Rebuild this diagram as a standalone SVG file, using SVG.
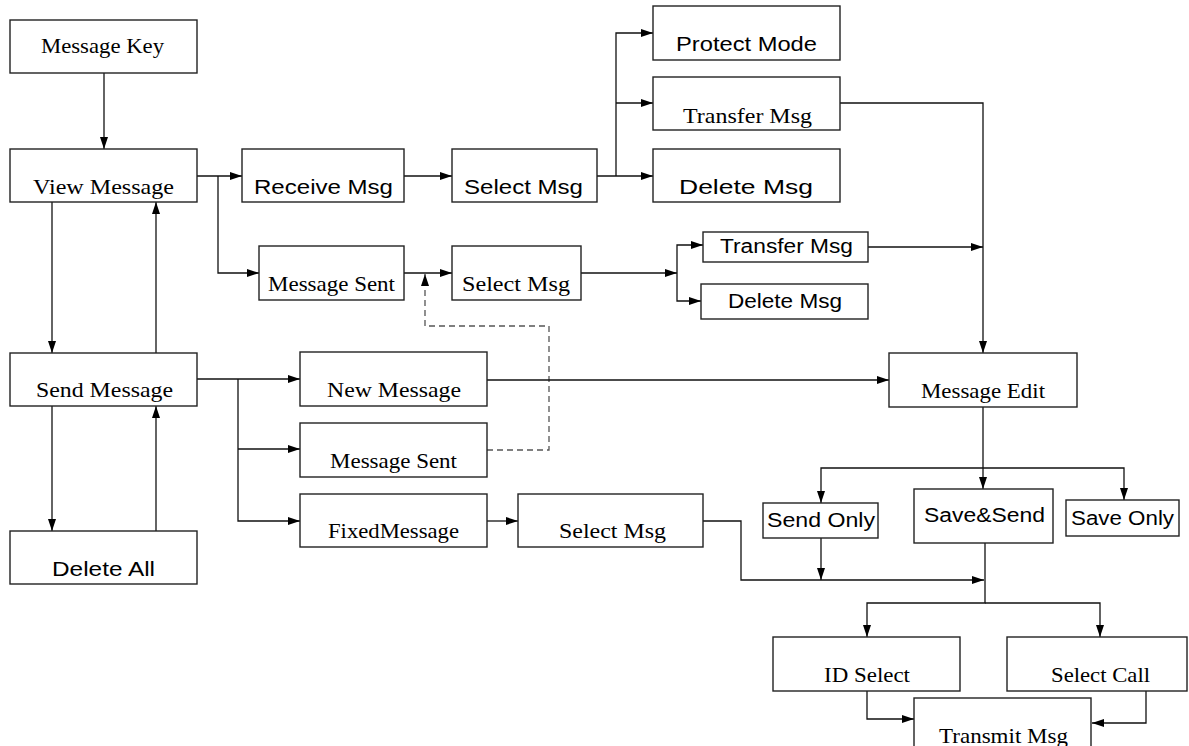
<svg xmlns="http://www.w3.org/2000/svg" width="1189" height="746" viewBox="0 0 1189 746">
<style>
rect{fill:#fff;stroke:#222;stroke-width:1.4}
.s{font-family:"Liberation Serif",serif;font-size:21px;fill:#000}
.a{font-family:"Liberation Sans",Arial,sans-serif;font-size:20px;fill:#000}
.c path{fill:none;stroke:#111;stroke-width:1.3}
.c path.d{stroke:#555;stroke-dasharray:6,4}
</style>
<defs>
<marker id="ah" viewBox="0 0 12 8" refX="12" refY="4" markerWidth="12" markerHeight="8" orient="auto" markerUnits="userSpaceOnUse"><path d="M0,0 L12,4 L0,8 z" fill="#000"/></marker>
</defs>
<rect x="0" y="0" width="1189" height="746" style="fill:#fff;stroke:none"/>
<g class="c" id="connectors">
<path d="M104,73 V149" marker-end="url(#ah)"/>
<path d="M197,176 H242" marker-end="url(#ah)"/>
<path d="M218,176 V273 H259" marker-end="url(#ah)"/>
<path d="M404,176 H452" marker-end="url(#ah)"/>
<path d="M597,176 H653" marker-end="url(#ah)"/>
<path d="M616,176 V33 H653" marker-end="url(#ah)"/>
<path d="M616,103 H653" marker-end="url(#ah)"/>
<path d="M840,103 H983 V353" marker-end="url(#ah)"/>
<path d="M404,273 H452" marker-end="url(#ah)"/>
<path class="d" d="M487,450 H549 V326 H425 V274" marker-end="url(#ah)"/>
<path d="M581,273 H677" marker-end="url(#ah)"/>
<path d="M677,273 V245 H703" marker-end="url(#ah)"/>
<path d="M677,273 V301 H701" marker-end="url(#ah)"/>
<path d="M868,247 H983" marker-end="url(#ah)"/>
<path d="M52,202 V353" marker-end="url(#ah)"/>
<path d="M156,353 V202" marker-end="url(#ah)"/>
<path d="M52,406 V531" marker-end="url(#ah)"/>
<path d="M156,531 V406" marker-end="url(#ah)"/>
<path d="M197,379 H300" marker-end="url(#ah)"/>
<path d="M238,379 V521 H300" marker-end="url(#ah)"/>
<path d="M238,449 H300" marker-end="url(#ah)"/>
<path d="M487,380 H889" marker-end="url(#ah)"/>
<path d="M487,521 H518" marker-end="url(#ah)"/>
<path d="M703,521 H741 V580 H984" marker-end="url(#ah)"/>
<path d="M983,407 V489" marker-end="url(#ah)"/>
<path d="M983,468 H821 V503" marker-end="url(#ah)"/>
<path d="M983,468 H1124 V500" marker-end="url(#ah)"/>
<path d="M821,538 V580" marker-end="url(#ah)"/>
<path d="M985,543 V603 H867 V637" marker-end="url(#ah)"/>
<path d="M985,603 H1100 V637" marker-end="url(#ah)"/>
<path d="M867,691 V719 H914" marker-end="url(#ah)"/>
<path d="M1146,691 V723 H1092" marker-end="url(#ah)"/>
</g>
<g id="message-key"><rect x="10" y="20" width="187" height="53"/><text class="s" x="41" y="53" textLength="123" lengthAdjust="spacingAndGlyphs">Message Key</text></g>
<g id="view-message"><rect x="10" y="149" width="187" height="53"/><text class="s" x="33" y="194" textLength="141" lengthAdjust="spacingAndGlyphs">View Message</text></g>
<g id="receive-msg"><rect x="242" y="149" width="162" height="53"/><text class="a" x="254" y="194" textLength="139" lengthAdjust="spacingAndGlyphs">Receive Msg</text></g>
<g id="select-msg-1"><rect x="452" y="149" width="145" height="53"/><text class="a" x="464" y="194" textLength="119" lengthAdjust="spacingAndGlyphs">Select Msg</text></g>
<g id="protect-mode"><rect x="653" y="6" width="187" height="54"/><text class="a" x="676" y="51" textLength="141" lengthAdjust="spacingAndGlyphs">Protect Mode</text></g>
<g id="transfer-msg-1"><rect x="653" y="77" width="187" height="53"/><text class="s" x="683" y="123" textLength="129" lengthAdjust="spacingAndGlyphs">Transfer Msg</text></g>
<g id="delete-msg-1"><rect x="653" y="149" width="187" height="53"/><text class="a" x="679" y="194" textLength="134" lengthAdjust="spacingAndGlyphs">Delete Msg</text></g>
<g id="message-sent-1"><rect x="259" y="246" width="145" height="54"/><text class="s" x="268" y="291" textLength="127" lengthAdjust="spacingAndGlyphs">Message Sent</text></g>
<g id="select-msg-2"><rect x="452" y="246" width="129" height="54"/><text class="s" x="462" y="291" textLength="108" lengthAdjust="spacingAndGlyphs">Select Msg</text></g>
<g id="transfer-msg-2"><rect x="703" y="232" width="165" height="30"/><text class="a" x="720" y="253" font-size="21" textLength="133" lengthAdjust="spacingAndGlyphs">Transfer Msg</text></g>
<g id="delete-msg-2"><rect x="701" y="284" width="167" height="35"/><text class="a" x="728" y="308" font-size="21" textLength="114" lengthAdjust="spacingAndGlyphs">Delete Msg</text></g>
<g id="send-message"><rect x="10" y="353" width="187" height="53"/><text class="s" x="36" y="397" textLength="137" lengthAdjust="spacingAndGlyphs">Send Message</text></g>
<g id="delete-all"><rect x="10" y="531" width="187" height="53"/><text class="a" x="52" y="576" textLength="103" lengthAdjust="spacingAndGlyphs">Delete All</text></g>
<g id="new-message"><rect x="300" y="352" width="187" height="54"/><text class="s" x="327" y="397" textLength="134" lengthAdjust="spacingAndGlyphs">New Message</text></g>
<g id="message-sent-2"><rect x="300" y="423" width="187" height="54"/><text class="s" x="330" y="468" textLength="127" lengthAdjust="spacingAndGlyphs">Message Sent</text></g>
<g id="fixed-message"><rect x="300" y="494" width="187" height="53"/><text class="s" x="328" y="538" textLength="131" lengthAdjust="spacingAndGlyphs">FixedMessage</text></g>
<g id="select-msg-3"><rect x="518" y="494" width="185" height="53"/><text class="s" x="559" y="538" textLength="107" lengthAdjust="spacingAndGlyphs">Select Msg</text></g>
<g id="message-edit"><rect x="889" y="353" width="188" height="54"/><text class="s" x="921" y="398" textLength="124" lengthAdjust="spacingAndGlyphs">Message Edit</text></g>
<g id="send-only"><rect x="763" y="503" width="115" height="35"/><text class="a" x="767" y="527" textLength="108" lengthAdjust="spacingAndGlyphs">Send Only</text></g>
<g id="save-send"><rect x="914" y="489" width="139" height="54"/><text class="a" x="924" y="522" textLength="121" lengthAdjust="spacingAndGlyphs">Save&amp;Send</text></g>
<g id="save-only"><rect x="1066" y="500" width="113" height="36"/><text class="a" x="1071" y="525" textLength="103" lengthAdjust="spacingAndGlyphs">Save Only</text></g>
<g id="id-select"><rect x="773" y="637" width="187" height="54"/><text class="s" x="824" y="682" textLength="86" lengthAdjust="spacingAndGlyphs">ID Select</text></g>
<g id="select-call"><rect x="1007" y="637" width="180" height="54"/><text class="s" x="1051" y="682" textLength="99" lengthAdjust="spacingAndGlyphs">Select Call</text></g>
<g id="transmit-msg"><rect x="914" y="698" width="177" height="60"/><text class="s" x="939" y="743" textLength="129" lengthAdjust="spacingAndGlyphs">Transmit Msg</text></g>
</svg>
